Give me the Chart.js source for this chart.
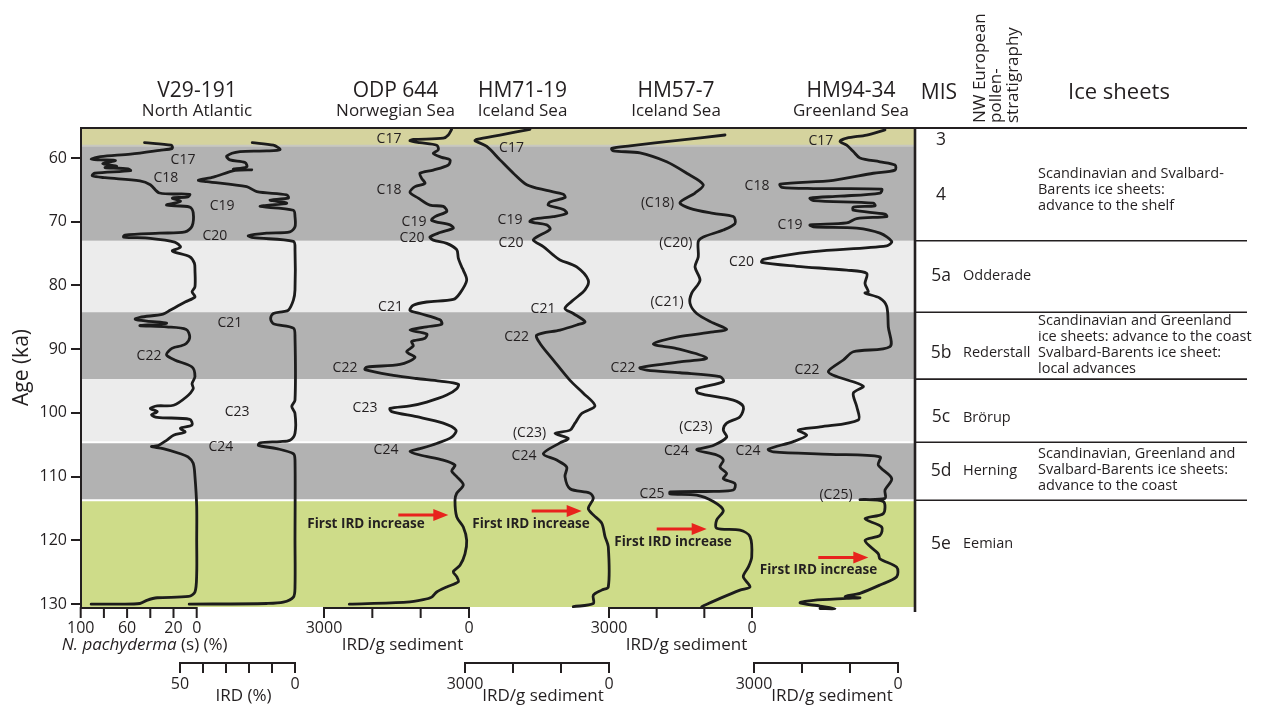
<!DOCTYPE html>
<html lang="en">
<head>
<meta charset="utf-8">
<title>IRD and N. pachyderma records, 55–130 ka</title>
<script src="https://cdn.jsdelivr.net/npm/chart.js@4.4.1/dist/chart.umd.min.js"></script>
<style>
  html, body { margin: 0; padding: 0; background: #ffffff; }
  #wrap { position: relative; width: 1269px; height: 706px; }
</style>
</head>
<body>
<div id="wrap"><canvas id="chart"></canvas></div>
<script>
// ---------------- data ----------------
const ageTicks = [60, 70, 80, 90, 100, 110, 120, 130];

// V29-191, N. pachyderma (s) in %  [age ka, %]
const v29Pachyderma = [
  [57.6,45],[58.0,22],[58.5,21],[58.8,32],[59.4,57],[59.8,83],[60.2,91],[60.3,83],[60.4,70],[60.9,81],
  [61.3,69],[61.5,79],[61.7,59],[62.0,57],[62.4,88],[62.8,90],[63.1,79],[63.6,49],[64.2,40],[65.5,32],
  [65.7,6],[66.1,7.5],[66.3,21],[66.8,14],[67.4,26],[67.7,6],[68.6,3],[70.7,4],[71.6,10],[71.8,32],
  [72.1,62],[72.4,63],[72.6,40],[73.2,19],[74.0,14],[74.6,21],[75.5,6],[76.5,2],[77.6,1.5],[80.2,1.5],
  [81.0,4],[81.8,1.5],[82.6,10],[83.9,23],[84.5,29],[85.0,49],[85.3,53],[85.6,43],[85.9,26],[86.1,33],
  [86.3,49],[86.5,26],[86.9,9],[88.1,6],[89.1,9],[89.5,14],[89.7,19],[90.1,23],[90.9,26],[91.7,19],
  [92.8,4],[94.3,1.5],[95.4,4],[96.2,3],[97.5,9],[98.8,20],[98.9,34],[99.3,40],[99.8,34],[100.3,39],
  [100.7,34],[101.0,6],[101.9,4],[102.4,14],[103.0,10],[103.5,20],[104.3,26],[105.1,33],[105.3,39],[105.6,29],
  [106.4,14],[106.9,7.5],[107.9,3],[110.0,1.5],[114.7,0],[120.0,0],[125.2,0],[128.1,1.5],[128.8,7],[129.0,34],
  [129.4,43],[129.9,49],[130.0,66],[130.0,91]
];

// V29-191, IRD in %  [age ka, %]
const v29Ird = [
  [57.6,18.6],[58.0,9.4],[58.7,6.5],[58.9,12.3],[59.0,23.9],[59.7,29.7],[60.3,28.3],[60.7,21.7],[61.4,21],[61.75,26.8],
  [61.85,18.8],[61.95,26],[63.0,35.5],[63.5,42],[63.7,38.4],[64.5,21],[65.3,16.6],[65.8,3.6],[66.3,2.9],[66.6,10.9],
  [67.1,3.6],[67.6,15.2],[68.2,0.7],[69.2,0],[70.8,0],[71.6,2.2],[71.8,12.3],[72.2,20.3],[72.5,18.1],[73.1,0.7],
  [74.4,0],[80.7,0],[82.3,0.7],[83.9,2.9],[84.1,5.1],[84.4,9.4],[85.2,10.6],[86.0,9.4],[86.7,0.7],[88.1,0],
  [98.0,0],[99.0,1.4],[100.1,0],[103.2,0],[104.3,2.2],[104.5,6.5],[104.7,15.2],[105.1,15.9],[105.6,8],[106.4,0.7],
  [107.4,0],[120.0,0],[127.3,0],[128.9,0.7],[129.7,5.1],[129.9,12.3],[130.0,46]
];

// ODP 644, IRD per g sediment  [age ka, IRD/g]
const odp644 = [
  [55.5,358],[56.4,428],[56.9,532],[57.1,1152],[57.3,1221],[57.6,1014],[58.0,668],[58.7,635],[59.3,739],[59.9,565],
  [60.3,393],[61.1,428],[61.9,739],[62.4,1014],[63.2,979],[64.0,910],[64.5,1117],[65.4,1221],[66.3,1049],[67.4,807],
  [67.6,532],[68.4,461],[69.2,703],[69.8,772],[70.5,393],[71.0,325],[71.7,600],[72.4,807],[72.9,739],[73.4,461],
  [74.4,254],[75.7,221],[77.1,151],[77.6,118],[79.2,48],[81.2,186],[82.2,325],[82.6,875],[83.1,1152],[83.9,1221],
  [84.4,1014],[85.4,600],[86.1,565],[86.5,875],[87.0,1221],[87.6,875],[88.3,910],[88.8,1186],[89.5,1152],[90.4,1289],
  [91.3,1117],[92.4,1428],[92.8,2117],[93.2,2152],[94.1,1566],[94.6,1082],[95.0,600],[95.5,221],[96.2,254],[97.2,461],
  [98.3,875],[98.9,1221],[99.3,1635],[99.8,1599],[100.6,1082],[101.6,532],[102.7,269],[103.8,358],[104.8,668],[105.6,1014],
  [106.0,1221],[106.6,1014],[107.4,532],[108.2,290],[109.1,358],[110.0,254],[111.3,118],[112.6,254],[113.7,290],[116.3,254],
  [117.9,118],[120.0,48],[122.1,83],[123.9,186],[124.9,325],[125.7,254],[126.5,221],[127.3,461],[128.1,668],[128.9,772],
  [129.3,946],[129.7,1289],[130.0,2477]
];

// HM71-19, IRD per g sediment
const hm7119 = [
  [55.5,1646],[56.4,2271],[57.1,2756],[57.3,2791],[58.2,2547],[60.3,2271],[62.4,1993],[64.2,1714],[65.1,1298],[65.7,952],
  [66.2,917],[66.9,1229],[67.4,1264],[68.1,952],[68.7,881],[69.2,1160],[69.6,1577],[70.0,1646],[70.5,1298],[71.2,1229],
  [72.4,1506],[72.9,1577],[73.9,1369],[75.2,1166],[76.0,1021],[77.1,673],[79.2,431],[80.7,500],[82.3,744],[83.6,917],
  [84.4,744],[85.7,500],[86.2,673],[87.0,1021],[87.8,1506],[89.1,1437],[91.7,1160],[94.9,812],[96.9,535],[98.9,292],
  [100.1,569],[101.6,708],[102.7,812],[103.2,1125],[104.0,848],[104.7,1021],[106.4,1369],[107.4,1089],[108.5,881],[110.0,917],
  [111.9,812],[112.6,396],[113.4,327],[115.0,431],[116.0,327],[117.3,152],[119.4,83],[121.0,15],[127.3,15],[127.8,152],
  [128.6,327],[129.9,327],[130.4,744]
];

// HM57-7, IRD per g sediment
const hm577 = [
  [56.4,566],[57.2,1511],[58.1,2560],[58.5,2943],[58.9,2910],[59.2,2350],[60.6,1790],[62.4,1370],[64.2,1022],[65.5,1196],
  [67.0,1511],[67.9,1301],[68.7,812],[69.2,392],[70.3,357],[71.3,602],[72.4,1022],[73.1,1127],[75.5,1127],[77.1,1196],
  [79.2,1091],[81.2,1265],[82.8,1301],[84.4,1160],[85.9,812],[86.9,531],[87.3,812],[88.1,1580],[89.2,2071],[89.9,1580],
  [91.4,950],[92.0,1511],[92.9,2350],[93.3,2209],[93.7,1511],[94.3,671],[95.1,602],[96.2,1160],[96.9,1127],[98.0,392],
  [99.0,183],[100.6,252],[101.6,531],[102.7,602],[103.8,531],[105.1,812],[105.8,1160],[106.6,741],[107.4,602],[108.5,671],
  [109.5,531],[110.3,602],[111.1,357],[112.1,392],[112.3,812],[112.4,1720],[112.7,1720],[112.9,1160],[113.9,812],[115.3,602],
  [116.8,741],[118.1,741],[118.4,252],[119.4,42],[122.6,6],[124.2,78],[125.7,183],[127.3,42],[127.8,252],[129.1,671],
  [130.4,1055]
];

// HM94-34, IRD per g sediment
const hm9434 = [
  [55.6,271],[56.4,652],[56.9,1069],[57.4,1208],[58.0,1069],[59.0,931],[60.0,792],[60.6,375],[61.1,62],[61.9,62],
  [62.4,514],[63.5,1348],[64.1,2458],[64.6,2423],[64.8,1764],[64.9,340],[65.5,375],[66.0,1208],[66.3,1833],[66.7,1764],
  [67.1,514],[67.5,479],[67.7,931],[68.2,931],[68.8,271],[69.2,235],[69.5,860],[70.2,1069],[70.5,1833],[70.8,1764],
  [71.0,860],[71.8,375],[73.1,131],[73.8,235],[74.7,1764],[75.9,2806],[76.4,2839],[77.0,2110],[77.6,1069],[78.1,652],
  [79.7,687],[81.0,619],[81.2,687],[82.0,375],[83.3,235],[86.5,202],[89.6,167],[90.4,931],[91.7,1139],[93.5,1452],
  [94.3,1277],[95.8,723],[96.9,931],[99.0,860],[101.1,827],[102.2,1625],[102.7,2077],[103.5,1902],[104.5,2181],[105.7,2702],
  [106.1,2598],[106.5,1416],[106.9,375],[108.2,410],[110.3,131],[112.1,271],[113.4,271],[113.6,792],[113.9,306],[115.8,306],
  [116.6,687],[117.9,340],[119.2,375],[120.0,687],[122.1,410],[122.9,375],[124.2,27],[125.7,27],[127.0,375],[128.3,792],
  [128.8,1104],[129.0,792],[129.1,1069],[129.4,1764],[129.8,2041],[130.3,1625],[130.7,1312],[130.7,1625]
];

// Marine isotope stages: age limits (ka), names and pollen zones
const misStages   = ['3', '4', '5a', '5b', '5c', '5d', '5e'];
const misTop      = [55.3, 58.1, 73.0, 84.2, 94.7, 104.6, 113.7];
const misBottom   = [58.1, 73.0, 84.2, 94.7, 104.6, 113.7, 130.45];
const misLabelAge = [57.2, 65.8, 78.5, 90.6, 100.7, 109.1, 120.6];
const pollenZones = ['', '', 'Odderade', 'Rederstall', 'Brörup', 'Herning', 'Eemian'];

const iceSheetNotes = [
  { age: 65.0,  lines: ['Scandinavian and Svalbard-', 'Barents ice sheets:', 'advance to the shelf'] },
  { age: 89.4,  lines: ['Scandinavian and Greenland', 'ice sheets: advance to the coast', 'Svalbard-Barents ice sheet:', 'local advances'] },
  { age: 109.0, lines: ['Scandinavian, Greenland and', 'Svalbard-Barents ice sheets:', 'advance to the coast'] }
];

// Cold events: [scale, value, age, label]
const coldEvents = [
  ['xPach', 11.8, 60.3, 'C17'], ['xPach', 26.5, 63.1, 'C18'], ['xIrd', 31.7, 67.6, 'C19'], ['xIrd', 34.8, 72.2, 'C20'],
  ['xIrd', 28.3, 85.9, 'C21'], ['xPach', 41.1, 91.1, 'C22'], ['xIrd', 25.2, 99.8, 'C23'], ['xIrd', 32.2, 105.3, 'C24'],
  ['xOdp', 1655, 57.1, 'C17'], ['xOdp', 1655, 65.1, 'C18'], ['xOdp', 1138, 70.0, 'C19'], ['xOdp', 1179, 72.5, 'C20'],
  ['xOdp', 1624, 83.4, 'C21'], ['xOdp', 2566, 93.0, 'C22'], ['xOdp', 2152, 99.2, 'C23'], ['xOdp', 1717, 105.8, 'C24'],
  ['xHm71', 2031, 58.5, 'C17'], ['xHm71', 2062, 69.7, 'C19'], ['xHm71', 2041, 73.3, 'C20'], ['xHm71', 1375, 83.7, 'C21'],
  ['xHm71', 1923, 88.1, 'C22'], ['xHm71', 1656, 103.2, '(C23)'], ['xHm71', 1771, 106.7, 'C24'],
  ['xHm57', 1983, 67.1, '(C18)'], ['xHm57', 1599, 73.3, '(C20)'], ['xHm57', 1783, 82.6, '(C21)'], ['xHm57', 2706, 93.0, 'C22'],
  ['xHm57', 1179, 102.2, '(C23)'], ['xHm57', 1588, 106.0, 'C24'], ['xHm57', 2098, 112.7, 'C25'],
  ['xHm94', 1608, 57.4, 'C17'], ['xHm94', 2937, 64.4, 'C18'], ['xHm94', 2250, 70.5, 'C19'], ['xHm94', 3260, 76.4, 'C20'],
  ['xHm94', 1896, 93.2, 'C22'], ['xHm94', 3125, 106.0, 'C24'], ['xHm94', 1291, 112.9, '(C25)']
];

// First IRD increase: arrow tip [scale, value, age] and caption [value, age]
const firstIrd = [
  ['xOdp', 428, 116.0, 2131, 117.4],
  ['xHm71', 569, 115.4, 1625, 117.4],
  ['xHm57', 950, 118.2, 1657, 120.2],
  ['xHm94', 619, 122.7, 1656, 124.6]
];

// ---------------- layout & style ----------------
const W = 1269, H = 706;
const AREA = { left: 81, right: 915, top: 128, bottom: 607 };
const PANEL_RIGHT = 1247;
const INK = '#231f20';
const CURVE = '#1c1c1c';
const RED = '#e8231d';
const FAMILY = '"Open Sans", "Noto Sans", "DejaVu Sans", sans-serif';
const bandFill = ['#d5d39e', '#b2b2b2', '#ececec', '#b2b2b2', '#ececec', '#b2b2b2', '#cedc89'];

// Each record gets its own horizontal scale: value 0 at zeroPx, endValue at endPx
const columns = {
  xPach: { zeroPx: 196.7, endPx: 80.7, endValue: 100 },
  xIrd:  { zeroPx: 295,   endPx: 180,  endValue: 50 },
  xOdp:  { zeroPx: 469,   endPx: 324,  endValue: 3000 },
  xHm71: { zeroPx: 609,   endPx: 465,  endValue: 3000 },
  xHm57: { zeroPx: 752,   endPx: 609,  endValue: 3000 },
  xHm94: { zeroPx: 898,   endPx: 754,  endValue: 3000 }
};

const headers = [
  { scale: 'xPach', x: 197,   title: 'V29-191', sub: 'North Atlantic' },
  { scale: 'xOdp',  x: 395.5, title: 'ODP 644', sub: 'Norwegian Sea' },
  { scale: 'xHm71', x: 522.5, title: 'HM71-19', sub: 'Iceland Sea' },
  { scale: 'xHm57', x: 676,   title: 'HM57-7',  sub: 'Iceland Sea' },
  { scale: 'xHm94', x: 851,   title: 'HM94-34', sub: 'Greenland Sea' }
];

const bottomAxes = [
  { scale: 'xPach', row: 0, ticks: [100, 80, 60, 40, 20, 0], labels: [100, 60, 20, 0], title: [['N. pachyderma', 'italic'], [' (s) (%)', 'normal']] },
  { scale: 'xIrd',  row: 1, ticks: [50, 40, 30, 20, 10, 0], labels: [50, 0], title: [['IRD (%)', 'normal']] },
  { scale: 'xOdp',  row: 0, ticks: [3000, 2000, 1000, 0], labels: [3000, 0], title: [['IRD/g sediment', 'normal']] },
  { scale: 'xHm71', row: 1, ticks: [3000, 2000, 1000, 0], labels: [3000, 0], title: [['IRD/g sediment', 'normal']] },
  { scale: 'xHm57', row: 0, ticks: [3000, 2000, 1000, 0], labels: [3000, 0], title: [['IRD/g sediment', 'normal']] },
  { scale: 'xHm94', row: 1, ticks: [3000, 2000, 1000, 0], labels: [3000, 0], title: [['IRD/g sediment', 'normal']] }
];
const rowLineY = [608, 663], rowLabelY = [628, 684], rowTitleY = [645, 696];

function fnt(size, weight = 'normal', style = 'normal') {
  return `${style} ${weight} ${size}px ${FAMILY}`;
}
function text(ctx, s, x, y, f, align = 'center', baseline = 'middle', color = INK) {
  ctx.font = f; ctx.fillStyle = color; ctx.textAlign = align; ctx.textBaseline = baseline;
  ctx.fillText(s, x, y);
}
function columnScale(c) {
  const k = c.endValue / (c.zeroPx - c.endPx);
  return {
    type: 'linear', axis: 'x', position: 'bottom', display: false, reverse: true, bounds: 'data',
    min: -(AREA.right - c.zeroPx) * k, max: (c.zeroPx - AREA.left) * k
  };
}

// ---------------- plugins ----------------
const stageBands = {
  id: 'stageBands',
  beforeDraw(chart) {
    const { ctx, chartArea: a, scales: { y } } = chart;
    ctx.save();
    misTop.forEach((t, i) => {
      const y0 = y.getPixelForValue(t), y1 = y.getPixelForValue(misBottom[i]);
      ctx.fillStyle = bandFill[i];
      ctx.fillRect(a.left, y0, a.right - a.left, y1 - y0);
    });
    // pale seams at stage boundaries
    ctx.lineWidth = 2;
    [[misTop[1], '#c8c8c0'], [misTop[5], '#ffffff'], [misTop[6], '#ffffff']].forEach(([age, col]) => {
      const yy = y.getPixelForValue(age);
      ctx.strokeStyle = col;
      ctx.beginPath(); ctx.moveTo(a.left, yy); ctx.lineTo(a.right, yy); ctx.stroke();
    });
    ctx.restore();
  }
};

const frameAndNotes = {
  id: 'frameAndNotes',
  afterDraw(chart) {
    const { ctx, chartArea: a, scales } = chart;
    const y = scales.y;
    ctx.save();
    ctx.strokeStyle = INK;
    ctx.lineCap = 'butt';

    // top rule and right edge of the record panel
    ctx.lineWidth = 2;
    ctx.beginPath(); ctx.moveTo(a.left - 1, a.top); ctx.lineTo(PANEL_RIGHT, a.top); ctx.stroke();
    ctx.lineWidth = 2.6;
    ctx.beginPath(); ctx.moveTo(a.right, a.top); ctx.lineTo(a.right, a.bottom + 5); ctx.stroke();

    // stage boundaries in the right-hand table
    ctx.lineWidth = 1.6;
    misTop.slice(2).forEach(age => {
      const yy = y.getPixelForValue(age);
      ctx.beginPath(); ctx.moveTo(a.right, yy); ctx.lineTo(PANEL_RIGHT, yy); ctx.stroke();
    });

    // table headings
    text(ctx, 'MIS', 939, 99, fnt(21), 'center', 'alphabetic');
    text(ctx, 'Ice sheets', 1119, 99, fnt(22), 'center', 'alphabetic');
    ['NW European', 'pollen-', 'stratigraphy'].forEach((s, i) => {
      ctx.save();
      ctx.translate(980 + i * 16.5, 123);
      ctx.rotate(-Math.PI / 2);
      text(ctx, s, 0, 0, fnt(17), 'left', 'middle');
      ctx.restore();
    });

    // stages, pollen zones, ice-sheet notes
    misStages.forEach((s, i) => {
      const yy = y.getPixelForValue(misLabelAge[i]);
      text(ctx, s, 941, yy, fnt(17.5));
      if (pollenZones[i]) text(ctx, pollenZones[i], 963, yy, fnt(14.5), 'left');
    });
    iceSheetNotes.forEach(n => {
      const yc = y.getPixelForValue(n.age);
      const y0 = yc - (n.lines.length - 1) * 16 / 2;
      n.lines.forEach((s, i) => text(ctx, s, 1038, y0 + i * 16, fnt(14.5), 'left'));
    });

    // record headings
    headers.forEach(h => {
      text(ctx, h.title, h.x, 97, fnt(21), 'center', 'alphabetic');
      text(ctx, h.sub, h.x, 116, fnt(17), 'center', 'alphabetic');
    });

    // value axes under the records
    bottomAxes.forEach(ax => {
      const sc = scales[ax.scale];
      const xs = ax.ticks.map(v => sc.getPixelForValue(v));
      const y0 = rowLineY[ax.row];
      ctx.lineWidth = 2;
      ctx.strokeStyle = INK;
      ctx.beginPath();
      ctx.moveTo(Math.min(...xs) - 1, y0); ctx.lineTo(Math.max(...xs) + 1, y0);
      xs.forEach(x => { ctx.moveTo(x, y0); ctx.lineTo(x, y0 + 10); });
      ctx.stroke();
      ax.labels.forEach(v => text(ctx, String(v), sc.getPixelForValue(v), rowLabelY[ax.row], fnt(16)));
      // title, possibly mixed italic / upright
      const parts = ax.title.map(([s, st]) => { ctx.font = fnt(17, 'normal', st); return [s, st, ctx.measureText(s).width]; });
      const total = parts.reduce((t, p) => t + p[2], 0);
      const cx = (Math.min(...xs) + Math.max(...xs)) / 2 + 6;
      let x = cx - total / 2;
      parts.forEach(([s, st, w]) => { text(ctx, s, x, rowTitleY[ax.row], fnt(17, 'normal', st), 'left'); x += w; });
    });

    // cold-event labels
    coldEvents.forEach(([sc, v, age, s]) => {
      text(ctx, s, scales[sc].getPixelForValue(v), y.getPixelForValue(age), fnt(14));
    });

    // first IRD increase arrows and captions
    firstIrd.forEach(([sc, v, age, tv, tage]) => {
      const s = scales[sc];
      const tx = s.getPixelForValue(v), ty = y.getPixelForValue(age);
      ctx.strokeStyle = RED; ctx.fillStyle = RED; ctx.lineWidth = 3;
      ctx.beginPath(); ctx.moveTo(tx - 50, ty); ctx.lineTo(tx - 12, ty); ctx.stroke();
      ctx.beginPath(); ctx.moveTo(tx, ty); ctx.lineTo(tx - 15, ty - 6); ctx.lineTo(tx - 15, ty + 6); ctx.closePath(); ctx.fill();
      text(ctx, 'First IRD increase', s.getPixelForValue(tv), y.getPixelForValue(tage), fnt(13.5, 'bold'));
    });
    ctx.restore();
  }
};

// ---------------- chart ----------------
function series(label, pairs, xAxisID) {
  return {
    label, xAxisID, yAxisID: 'y',
    data: pairs.map(([age, v]) => ({ x: v, y: age })),
    showLine: true, fill: false, clip: false,
    borderColor: CURVE, borderWidth: 2.8, tension: 0.3,
    borderCapStyle: 'round', borderJoinStyle: 'round',
    pointRadius: 0, pointHoverRadius: 0
  };
}

const scaleOptions = {
  x: { display: false },
  y: {
    type: 'linear', position: 'left', reverse: true, min: 55.3, max: 130.45, bounds: 'data',
    afterBuildTicks: s => { s.ticks = ageTicks.map(v => ({ value: v })); },
    afterFit: s => { s.width = AREA.left; },
    ticks: { color: INK, font: { family: FAMILY, size: 16 }, padding: 4, autoSkip: false },
    grid: { drawOnChartArea: false, drawTicks: true, tickLength: 10, tickWidth: 2, tickColor: INK, color: INK, lineWidth: 2 },
    border: { display: true, color: INK, width: 2 },
    title: { display: true, text: 'Age (ka)', color: INK, font: { family: FAMILY, size: 21 }, padding: { top: 9, bottom: 0 } }
  }
};
Object.keys(columns).forEach(id => { scaleOptions[id] = columnScale(columns[id]); });

new Chart(document.getElementById('chart'), {
  type: 'scatter',
  data: {
    datasets: [
      series('V29-191 N. pachyderma (s)', v29Pachyderma, 'xPach'),
      series('V29-191 IRD', v29Ird, 'xIrd'),
      series('ODP 644', odp644, 'xOdp'),
      series('HM71-19', hm7119, 'xHm71'),
      series('HM57-7', hm577, 'xHm57'),
      series('HM94-34', hm9434, 'xHm94')
    ]
  },
  options: {
    responsive: true, maintainAspectRatio: false, animation: false, events: [],
    layout: { padding: { left: 0, top: AREA.top, right: W - AREA.right, bottom: H - AREA.bottom } },
    plugins: { legend: { display: false }, tooltip: { enabled: false } },
    scales: scaleOptions
  },
  plugins: [stageBands, frameAndNotes]
});
</script>
</body>
</html>
